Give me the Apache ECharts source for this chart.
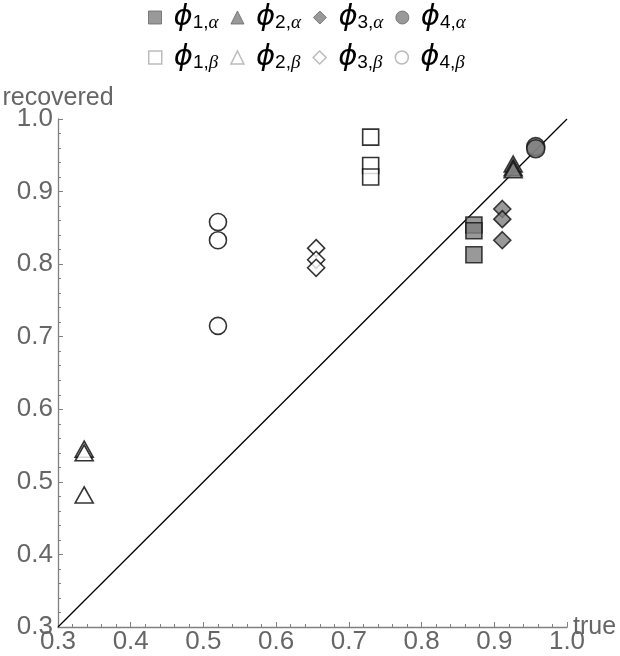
<!DOCTYPE html>
<html><head><meta charset="utf-8">
<script src="https://cdn.jsdelivr.net/npm/echarts@6/dist/echarts.min.js"></script>
<style>html,body{margin:0;padding:0;background:#fff}#c{width:620px;height:656px}</style>
</head><body><div id="c"></div>
<script>
// ---- data (true, recovered) ----
const phi1Alpha = [[0.872, 0.854], [0.872, 0.846], [0.872, 0.813]];
const phi2Alpha = [[0.926, 0.938], [0.926, 0.933], [0.926, 0.930]];
const phi3Alpha = [[0.911, 0.876], [0.911, 0.862], [0.911, 0.833]];
const phi4Alpha = [[0.957, 0.962], [0.957, 0.959]];
const phi1Beta = [[0.73, 0.975], [0.73, 0.936], [0.73, 0.920]];
const phi2Beta = [[0.336, 0.545], [0.336, 0.540], [0.336, 0.482]];
const phi3Beta = [[0.655, 0.822], [0.655, 0.806], [0.655, 0.795]];
const phi4Beta = [[0.52, 0.858], [0.52, 0.833], [0.52, 0.715]];
const diagonal = [[0.3, 0.3], [1.0, 1.0]];
const xTicks = [0.3, 0.4, 0.5, 0.6, 0.7, 0.8, 0.9, 1.0];
const yTicks = [0.3, 0.4, 0.5, 0.6, 0.7, 0.8, 0.9, 1.0];
const legendAlpha = ['p1a', 'p2a', 'p3a', 'p4a'];
const legendBeta = ['p1b', 'p2b', 'p3b', 'p4b'];
const labelMap = {
  p1a: ['1', 'α'], p2a: ['2', 'α'], p3a: ['3', 'α'], p4a: ['4', 'α'],
  p1b: ['1', 'β'], p2b: ['2', 'β'], p3b: ['3', 'β'], p4b: ['4', 'β']
};

const filled = { color: '#808080', borderColor: '#111', borderWidth: 1.6 };
const open = { color: '#ffffff', borderColor: '#000', borderWidth: 1.6 };
const legFilled = { color: '#808080', borderColor: '#666', borderWidth: 1 };
const legOpen = { color: '#ffffff', borderColor: '#aaaaaa', borderWidth: 1.5 };

function sc(name, data, symbol, size, style) {
  return { name, type: 'scatter', data, symbol, symbolSize: size, itemStyle: style, z: 3 };
}
const rich = {
  p: { fontSize: 29, fontStyle: 'italic', fontFamily: 'DejaVu Sans', color: '#000', lineHeight: 30, padding: [0, 0, 0, 7] },
  s: { fontSize: 19, fontFamily: 'Liberation Sans', color: '#000', lineHeight: 18, verticalAlign: 'bottom' },
  g: { fontSize: 19, fontFamily: 'Liberation Serif', fontStyle: 'italic', color: '#000', lineHeight: 18, verticalAlign: 'bottom' }
};
const fmt = n => '{p|ϕ}{s|' + labelMap[n][0] + ',}{g|' + labelMap[n][1] + '}';
const icons = ['rect', 'triangle', 'diamond', 'circle'];

const axisCommon = {
  type: 'value', min: 0.3, max: 1.0, interval: 0.1,
  nameMoveOverlap: false,
  axisLine: { show: true, lineStyle: { color: '#808080', width: 1.3 } },
  axisTick: { show: true, inside: true, length: 5, lineStyle: { color: '#808080' } },
  minorTick: { show: true, splitNumber: 5, length: 3, lineStyle: { color: '#808080' } },
  splitLine: { show: false },
  axisLabel: { fontSize: 26, color: '#666', fontFamily: 'Liberation Sans', formatter: v => v.toFixed(1) },
  nameTextStyle: { fontSize: 25, color: '#666', fontFamily: 'Liberation Sans' }
};

const chart = echarts.init(document.getElementById('c'));
chart.setOption({
  animation: false,
  grid: { left: 58, right: 53, top: 119, bottom: 29, outerBoundsMode: 'none', containLabel: false },
  legend: [
    { top: -2, left: 143, itemWidth: 13, itemHeight: 13, itemGap: 12, formatter: fmt,
      textStyle: { rich },
      data: legendAlpha.map((n, i) => ({ name: n, icon: icons[i], itemStyle: legFilled })) },
    { top: 38, left: 143, itemWidth: 13, itemHeight: 13, itemGap: 12, formatter: fmt,
      textStyle: { rich },
      data: legendBeta.map((n, i) => ({ name: n, icon: icons[i], itemStyle: legOpen })) }
  ],
  xAxis: Object.assign({}, axisCommon, {
    name: 'true', nameLocation: 'end', nameGap: 6,
    nameTextStyle: Object.assign({}, axisCommon.nameTextStyle, { verticalAlign: 'middle', padding: [0, 0, 6, 0] }),
    axisLabel: Object.assign({}, axisCommon.axisLabel, { margin: 2 })
  }),
  yAxis: Object.assign({}, axisCommon, {
    name: 'recovered', nameLocation: 'end', nameGap: 21,
    nameTextStyle: Object.assign({}, axisCommon.nameTextStyle, { verticalAlign: 'middle' }),
    axisLabel: Object.assign({}, axisCommon.axisLabel, { margin: 5 })
  }),
  series: [
    { type: 'line', data: diagonal, symbol: 'none', lineStyle: { color: '#000', width: 1.3 }, z: 2, silent: true },
    sc('p1b', phi1Beta, 'rect', 16, open),
    sc('p2b', phi2Beta, 'triangle', [18, 16], open),
    sc('p3b', phi3Beta, 'diamond', [17, 17], open),
    sc('p4b', phi4Beta, 'circle', 17, open),
    sc('p1a', phi1Alpha, 'rect', 16, filled),
    sc('p2a', phi2Alpha, 'triangle', [18, 16], filled),
    sc('p3a', phi3Alpha, 'diamond', [17, 17], filled),
    sc('p4a', phi4Alpha, 'circle', 18, filled)
  ]
});
</script></body></html>
